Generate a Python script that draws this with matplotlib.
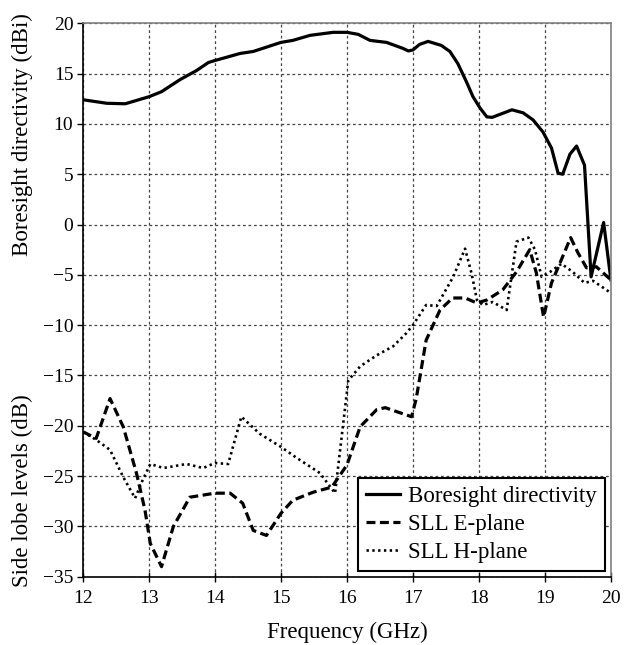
import matplotlib
matplotlib.use("Agg")
import matplotlib.pyplot as plt

plt.rcParams['font.family'] = ['Liberation Serif', 'DejaVu Serif']

# Boresight directivity (dBi)
f_bore = [12.0, 12.36, 12.64, 13.0, 13.19, 13.47, 13.72, 13.9, 14.0, 14.38, 14.58, 15.0, 15.18,
          15.44, 15.79, 16.0, 16.17, 16.35, 16.6, 16.85, 16.93, 17.0, 17.1, 17.23, 17.43, 17.56,
          17.68, 17.81, 17.91, 18.02, 18.12, 18.2, 18.5, 18.67, 18.82, 18.97, 19.1, 19.2, 19.27,
          19.38, 19.48, 19.6, 19.7, 19.89, 20.0]
v_bore = [12.4, 12.05, 12.0, 12.7, 13.2, 14.4, 15.3, 16.1, 16.3, 17.0, 17.2, 18.1, 18.3,
          18.8, 19.1, 19.1, 18.9, 18.3, 18.1, 17.5, 17.25, 17.35, 17.9, 18.2, 17.8, 17.2,
          16.0, 14.2, 12.7, 11.55, 10.7, 10.65, 11.4, 11.1, 10.4, 9.2, 7.6, 5.1, 5.0,
          7.0, 7.8, 5.9, -5.2, 0.2, -5.5]

# SLL E-plane (dB)
f_e = [12.0, 12.2, 12.41, 12.61, 12.81, 12.94, 13.02, 13.19, 13.37, 13.62, 14.0, 14.23, 14.42,
       14.58, 14.78, 15.0, 15.18, 15.49, 15.77, 16.0, 16.2, 16.45, 16.58, 16.8, 16.98, 17.05,
       17.2, 17.41, 17.6, 17.79, 17.97, 18.12, 18.36, 18.57, 18.77, 18.87, 18.98, 19.1, 19.23,
       19.39, 19.5, 19.63, 19.78, 20.0]
v_e = [-20.6, -21.25, -17.3, -20.1, -24.7, -28.4, -31.7, -34.0, -30.0, -27.1, -26.7, -26.7, -27.7,
       -30.4, -30.9, -28.7, -27.4, -26.6, -26.1, -23.9, -20.1, -18.4, -18.2, -18.7, -19.1, -17.3,
       -11.5, -8.5, -7.3, -7.3, -7.8, -7.5, -6.5, -4.7, -2.5, -4.8, -9.2, -5.8, -3.8,
       -1.3, -2.8, -4.3, -4.2, -5.5]

# SLL H-plane (dB)
f_h = [12.0, 12.2, 12.41, 12.61, 12.79, 12.89, 13.02, 13.22, 13.57, 13.82, 14.0, 14.2, 14.4,
       14.68, 15.0, 15.24, 15.59, 15.82, 16.02, 16.2, 16.45, 16.7, 16.9, 17.0, 17.2, 17.36,
       17.61, 17.79, 17.89, 17.97, 18.06, 18.21, 18.42, 18.57, 18.75, 18.85, 18.95, 19.08,
       19.25, 19.42, 19.6, 19.73, 20.0]
v_h = [-20.6, -21.4, -22.4, -25.1, -27.2, -25.6, -23.8, -24.2, -23.8, -24.2, -23.7, -23.8, -19.1,
       -20.8, -22.1, -23.2, -24.7, -26.7, -15.5, -14.1, -13.0, -12.1, -10.8, -10.0, -8.0, -8.1,
       -5.2, -2.4, -4.9, -7.5, -8.0, -7.7, -8.5, -1.7, -1.3, -2.5, -5.2, -4.7,
       -3.9, -4.7, -5.8, -5.6, -6.8]

labels = ["Boresight directivity", "SLL E-plane", "SLL H-plane"]
x_ticks = [12, 13, 14, 15, 16, 17, 18, 19, 20]
y_ticks = [20, 15, 10, 5, 0, -5, -10, -15, -20, -25, -30, -35]

fig = plt.figure(figsize=(6.24, 6.45), dpi=100)
ax = fig.add_axes([0.133, 0.1059, 0.846, 0.858])

ax.plot(f_bore, v_bore, color='black', lw=2.3, solid_joinstyle='round', label=labels[0])
ax.plot(f_e, v_e, color='black', lw=2.3, linestyle=(0, (2.8, 1.4)), label=labels[1])
ax.plot(f_h, v_h, color='black', lw=1.9, linestyle=(0, (0.9, 1.3)), label=labels[2])

ax.set_xlim(12, 20)
ax.set_ylim(-35, 20)
ax.set_xticks(x_ticks)
ax.set_yticks(y_ticks)
ax.set_xticklabels([str(t) for t in x_ticks])
ax.set_yticklabels([str(t).replace('-', '\u2212') for t in y_ticks])
ax.tick_params(axis='y', direction='out', length=4, width=1, labelsize=14, pad=3)
ax.tick_params(axis='x', direction='inout', length=7, width=1, labelsize=14, pad=6)

ax.grid(True, color='#444444', lw=0.9, linestyle=(0, (2.2, 2.2)))
ax.set_axisbelow(True)

for s in ['left', 'bottom']:
    ax.spines[s].set_color('black')
    ax.spines[s].set_linewidth(1.2)
for s in ['top', 'right']:
    ax.spines[s].set_color('#808080')
    ax.spines[s].set_linewidth(1.2)

ax.set_xlabel("Frequency (GHz)", fontsize=16.5, labelpad=11)

fig.text(0.036, 0.7907, "Boresight directivity (dBi)", rotation=90, ha='center', va='center', fontsize=16.5)
fig.text(0.036, 0.2388, "Side lobe levels (dB)", rotation=90, ha='center', va='center', fontsize=16.5)

leg = ax.legend(loc='lower right', bbox_to_anchor=(0.989, 0.011), borderaxespad=0,
                fontsize=16.5, handlelength=1.5, handletextpad=0.35, labelspacing=0.3,
                borderpad=0.35, fancybox=False, framealpha=1, edgecolor='black')
leg.get_frame().set_linewidth(1.5)

fig.savefig("out.png", dpi=100)
